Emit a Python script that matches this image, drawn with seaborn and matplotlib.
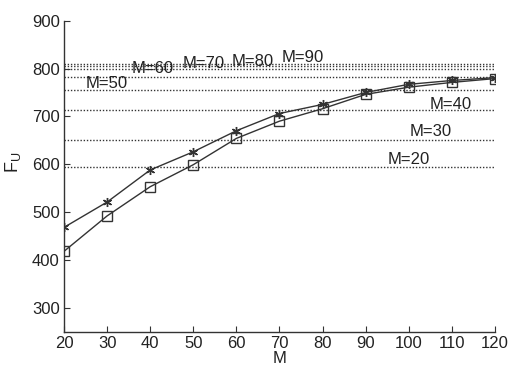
import matplotlib
matplotlib.use("Agg")
import matplotlib.pyplot as plt
import seaborn as sns
import pandas as pd

# Data
M_values = [20, 30, 40, 50, 60, 70, 80, 90, 100, 110, 120]
fu_star = [468, 521, 588, 626, 670, 706, 725, 750, 767, 775, 781]
fu_square = [418, 492, 553, 599, 654, 690, 716, 746, 761, 771, 779]

ref_labels = ["M=20", "M=30", "M=40", "M=50", "M=60", "M=70", "M=80", "M=90"]
ref_values = [594, 651, 713, 755, 783, 798, 805, 810]
# label anchor positions in data coords (x, y)
ref_label_x = [95.2, 100.3, 104.9, 24.9, 35.8, 47.6, 59.0, 70.6]
ref_label_y = [610, 669, 725, 769, 801, 811, 815, 823]

x_ticks = [20, 30, 40, 50, 60, 70, 80, 90, 100, 110, 120]
y_ticks = [300, 400, 500, 600, 700, 800, 900]

sns.set_style("ticks")
plt.rcParams["font.family"] = ["Liberation Sans", "DejaVu Sans"]
plt.rcParams["mathtext.fontset"] = "custom"
plt.rcParams["mathtext.rm"] = "Liberation Sans"
plt.rcParams["mathtext.it"] = "Liberation Sans"

fig = plt.figure(figsize=(5.15, 3.72), dpi=100)
ax = fig.add_axes([0.1243, 0.1083, 0.961 - 0.1243, 0.9444 - 0.1083])

for v in ref_values:
    ax.axhline(v, color="#333333", lw=1.0, ls=(0, (1, 1.3)), zorder=1)

df = pd.DataFrame({"M": M_values, "star": fu_star, "square": fu_square})
line_color = "#333333"
sns.lineplot(data=df, x="M", y="star", ax=ax, color=line_color, lw=1.0,
             marker=(6, 2, 0), markersize=6.5, markeredgewidth=1.0,
             markeredgecolor=line_color, zorder=3)
sns.lineplot(data=df, x="M", y="square", ax=ax, color=line_color, lw=1.0,
             marker="s", markersize=7.5, markerfacecolor="none",
             markeredgewidth=1.0, markeredgecolor=line_color, zorder=3)

for lab, lx, ly in zip(ref_labels, ref_label_x, ref_label_y):
    ax.text(lx, ly, lab, fontsize=12, color="#222222", ha="left", va="center",
            zorder=4)

ax.set_xlim(20, 120)
ax.set_ylim(250, 900)
ax.set_xticks(x_ticks)
ax.set_yticks(y_ticks)
ax.tick_params(direction="in", length=4, width=0.8, labelsize=12,
               colors="#333333", labelcolor="#222222", pad=3)
for s in ["top", "right"]:
    ax.spines[s].set_visible(False)
for s in ["left", "bottom"]:
    ax.spines[s].set_color("#333333")
    ax.spines[s].set_linewidth(1.0)

ax.set_xlabel("M", fontsize=12, labelpad=0, color="#222222")
ax.set_ylabel(r"F$_\mathrm{U}$", fontsize=13, color="#222222")
ax.yaxis.set_label_coords(-0.095, 0.545)

fig.savefig("out.png", dpi=100)
